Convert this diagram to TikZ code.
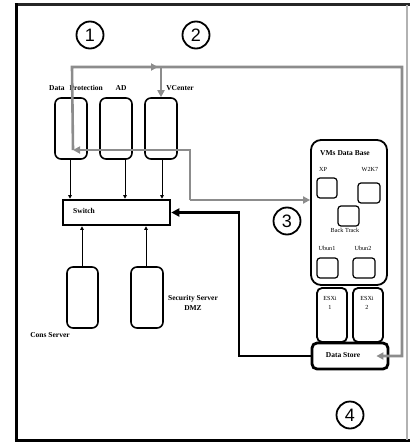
\documentclass[tikz,border=0pt]{standalone}
\usepackage{fontspec}
\setmainfont{Liberation Serif}
\newfontfamily\numfont{Liberation Sans}
\usetikzlibrary{arrows.meta,calc}
\begin{document}
\begin{tikzpicture}[x=1pt,y=-1pt,
  srv/.style={draw,line width=1.6pt,rounded corners=6pt,minimum width=32pt,minimum height=61pt,inner sep=0pt},
  vm/.style={draw,line width=1.2pt,rounded corners=3pt,minimum width=21pt,minimum height=20pt,inner sep=0pt},
  lbl/.style={font=\bfseries\fontsize{7.5}{8.5}\selectfont,inner sep=0pt},
  sml/.style={font=\fontsize{6.2}{7}\selectfont,inner sep=0pt},
  num/.style={draw,circle,line width=1.8pt,minimum size=27pt,inner sep=0pt,font=\numfont\fontsize{18}{18}\selectfont},
  gline/.style={draw=black!45,line width=2.6pt},
  gtip/.style={-{Triangle[length=7pt,width=7pt]}},
  thin/.style={draw,line width=0.9pt,-{Triangle[length=3.5pt,width=3.5pt]}}]
\useasboundingbox (0,0) rectangle (410,444);
% outer frame
\draw[line width=3pt,black!85] (14.5,5) -- (410,5);
\draw[line width=3pt] (16,3.5) -- (16,441.5);
\draw[line width=3pt] (14.5,440) -- (410,440);
\draw[line width=1.2pt,black!30] (407,5) -- (407,440);
% circled numbers
\node[num] (n1) at (90,35) {1};
\node[num] (n2) at (196,35) {2};
\node[num] (n3) at (287,221) {3};
\node[num] (n4) at (350,415) {4};
% top servers
\node[srv] (dp) at (71,128.5) {};
\node[srv] (ad) at (116,128.5) {};
\node[srv] (vc) at (161,128.5) {};
\node[lbl] (ldp) at (76,88) {Data\hspace{5pt}Protection};
\node[lbl] (lad) at (121,88) {AD};
\node[lbl] (lvc) at (180,88) {VCenter};
% switch
\node[draw,line width=2.6pt,minimum width=107pt,minimum height=25pt,inner sep=0pt] (sw) at (116.5,212.5) {};
\node[lbl,anchor=west] (lsw) at (73,211) {Switch};
% bottom servers
\node[srv,minimum width=31pt] (cons) at (82.5,297.5) {};
\node[srv] (sec) at (147,297.5) {};
\node[lbl] (lcons) at (50,335) {Cons Server};
\node[lbl,align=center] (lsec) at (193,303) {Security Server\\[1pt]DMZ};
% VMs data base
\node[draw,line width=1.8pt,rounded corners=10pt,minimum width=76pt,minimum height=145pt,inner sep=0pt] (vmdb) at (349,212.5) {};
\node[lbl] (lvmdb) at (345,153) {VMs Data Base};
\node[vm,minimum width=20pt] (xp) at (327,188) {};
\node[sml] (lxp) at (323,169) {XP};
\node[vm,minimum width=22pt] (w2k) at (369,193) {};
\node[sml] (lw2k) at (370,169) {W2K7};
\node[vm] (bt) at (348.5,216) {};
\node[sml] (lbt) at (345,230) {Back Track};
\node[vm] (u1) at (327.5,268) {};
\node[sml] (lu1) at (327,248) {Ubun1};
\node[vm,minimum width=22pt] (u2) at (364,268) {};
\node[sml] (lu2) at (363,248) {Ubun2};
% ESXi
\node[draw,line width=1.8pt,rounded corners=5pt,minimum width=30pt,minimum height=54pt,inner sep=0pt] (esx1) at (332,315) {};
\node[draw,line width=1.8pt,rounded corners=5pt,minimum width=30pt,minimum height=54pt,inner sep=0pt] (esx2) at (368,315) {};
\node[sml,align=center] (lesx1) at (330,303) {ESXi\\[2pt]1};
\node[sml,align=center] (lesx2) at (367,303) {ESXi\\[2pt]2};
% data store
\node[draw,line width=2.8pt,rounded corners=5pt,minimum width=76pt,minimum height=26pt,inner sep=0pt,fill=white] (ds) at (350,356) {};
\node[lbl] (lds) at (343,355) {Data Store};
% thin connectors to switch
\draw[thin] (dp.south -| 70,0) -- (sw.north -| 70,0);
\draw[thin] (ad.south -| 125,0) -- (sw.north -| 125,0);
\draw[thin] (vc.south -| 162,0) -- (sw.north -| 162,0);
\draw[thin] (cons.north -| 82,0) -- (sw.south -| 82,0);
\draw[thin] (sec.north -| 146,0) -- (sw.south -| 146,0);
% gray connectors
\coordinate (gtl) at (72,67);
\coordinate (gtr) at (402,67);
\coordinate (gbl) at (73,150);
\coordinate (gj) at (190,200);
\draw[gline,gtip] (gbl) -- (gtl) -- (gtr) |- ($(ds.east)+(-13,0)$);
\draw[gline,gtip] (gtl) -- (158,67);
\draw[gline,gtip] (vc.north |- gtl) -- (vc.north);
\draw[gline,gtip] (gj) |- (gbl);
\draw[gline,gtip] (gj) -- (vmdb.west |- gj);
% black connector
\coordinate (bk) at (239,212.5);
\draw[line width=2.8pt,-{Triangle[length=8pt,width=8pt]}] (ds.west) -| (bk) -- (sw.east);
\end{tikzpicture}
\end{document}
